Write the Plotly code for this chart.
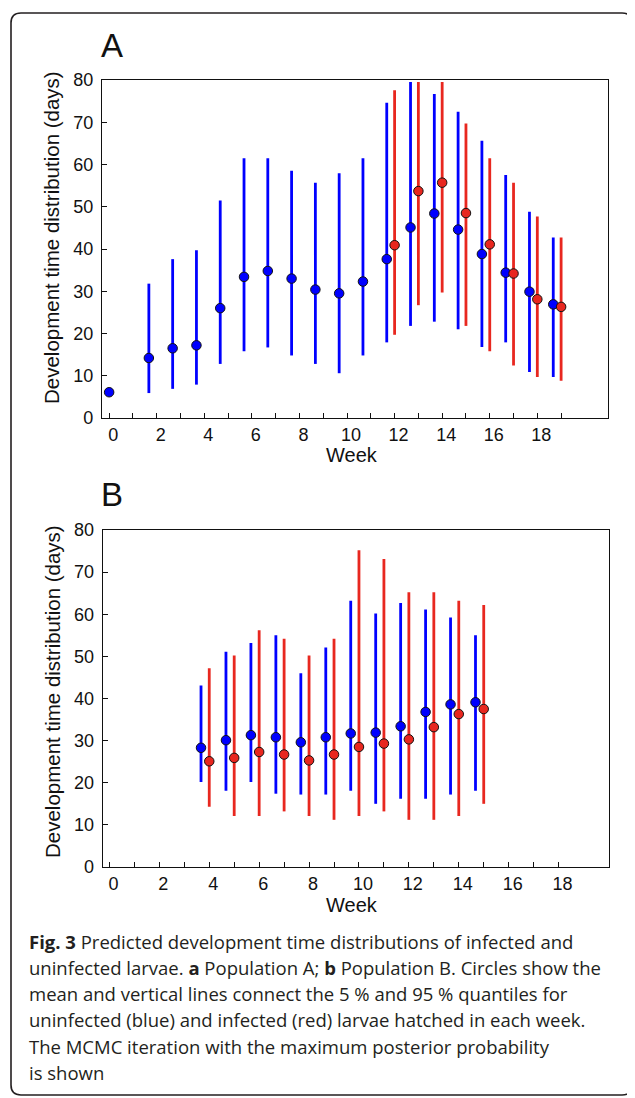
import plotly.graph_objects as go

# ---------------- data ----------------
weeks_blue_A = [0, 1.67, 2.67, 3.67, 4.67, 5.67, 6.67, 7.67, 8.67, 9.67, 10.67,
                11.67, 12.67, 13.67, 14.67, 15.67, 16.67, 17.67, 18.67]
mean_blue_A = [6.1, 14.2, 16.5, 17.2, 26.0, 33.4, 34.8, 33.0, 30.4, 29.5, 32.3,
               37.6, 45.1, 48.4, 44.6, 38.8, 34.4, 29.9, 26.9]
lo_blue_A = [5.2, 5.9, 6.9, 7.9, 12.8, 15.8, 16.7, 14.8, 12.8, 10.6, 14.8,
             17.9, 21.8, 22.8, 21.0, 16.8, 17.9, 10.9, 9.7]
hi_blue_A = [7.0, 31.8, 37.6, 39.7, 51.5, 61.5, 61.5, 58.5, 55.7, 57.9, 61.5,
             74.6, 79.5, 76.7, 72.5, 65.6, 57.5, 48.8, 42.7]

weeks_red_A = [12, 13, 14, 15, 16, 17, 18, 19]
mean_red_A = [40.9, 53.7, 55.7, 48.5, 41.1, 34.2, 28.1, 26.3]
lo_red_A = [19.7, 26.7, 29.7, 21.8, 15.8, 12.4, 9.7, 8.8]
hi_red_A = [77.6, 79.5, 79.5, 69.7, 61.5, 55.7, 47.7, 42.7]

weeks_blue_B = [3.67, 4.67, 5.67, 6.67, 7.67, 8.67, 9.67, 10.67, 11.67, 12.67, 13.67, 14.67]
mean_blue_B = [28.3, 30.1, 31.3, 30.8, 29.6, 30.8, 31.7, 31.9, 33.4, 36.8, 38.6, 39.1]
lo_blue_B = [20.2, 18.1, 20.2, 17.4, 17.2, 17.2, 18.1, 15.0, 16.2, 16.2, 17.2, 18.1]
hi_blue_B = [43.1, 51.1, 53.2, 55.0, 46.0, 52.1, 63.2, 60.2, 62.7, 61.1, 59.2, 55.0]

weeks_red_B = [4, 5, 6, 7, 8, 9, 10, 11, 12, 13, 14, 15]
mean_red_B = [25.1, 25.9, 27.3, 26.7, 25.3, 26.7, 28.5, 29.3, 30.3, 33.2, 36.3, 37.5]
lo_red_B = [14.3, 12.1, 12.1, 13.2, 12.1, 11.2, 12.1, 13.2, 11.2, 11.2, 12.1, 15.0]
hi_red_B = [47.2, 50.2, 56.2, 54.2, 50.2, 54.2, 75.2, 73.1, 65.2, 65.2, 63.2, 62.2]

x_tickvals_A = list(range(0, 20))
x_tickvals_B = list(range(0, 19))
x_ticklabels_A = [str(v) if v % 2 == 0 and v <= 18 else "" for v in x_tickvals_A]
x_ticklabels_B = [str(v) if v % 2 == 0 else "" for v in x_tickvals_B]
y_tickvals = [0, 10, 20, 30, 40, 50, 60, 70, 80]

y_title = "Development time distribution (days)"
x_title = "Week"
panel_labels = ["A", "B"]
caption_lines = [
    "<b>Fig. 3</b> Predicted development time distributions of infected and",
    "uninfected larvae. <b>a</b> Population A; <b>b</b> Population B. Circles show the",
    "mean and vertical lines connect the 5 % and 95 % quantiles for",
    "uninfected (blue) and infected (red) larvae hatched in each week.",
    "The MCMC iteration with the maximum posterior probability",
    "is shown",
]

# ---------------- styling ----------------
W, H = 635, 1098
OX, OY = 8, 8          # page body margin offset
BLUE = "#0000ff"
RED = "#e8271f"
SANS = "Liberation Sans, Arial, Helvetica, sans-serif"
TICKFONT = dict(family=SANS, size=18, color="#111")


def px_x(p):
    return (p - OX) / W


def px_y(p):
    return 1 - (p - OY) / H


fig = go.Figure()


def add_series(weeks, mean, lo, hi, color, xa, ya):
    plus = [h - m for h, m in zip(hi, mean)]
    minus = [m - l for m, l in zip(mean, lo)]
    fig.add_trace(go.Scatter(
        x=weeks, y=mean, mode="markers", xaxis=xa, yaxis=ya,
        marker=dict(size=9.5, color=color, line=dict(color="#111", width=1)),
        error_y=dict(type="data", symmetric=False, array=plus, arrayminus=minus,
                     color=color, thickness=2.8, width=0),
        showlegend=False, hoverinfo="x+y",
    ))


add_series(weeks_blue_A, mean_blue_A, lo_blue_A, hi_blue_A, BLUE, "x", "y")
add_series(weeks_red_A, mean_red_A, lo_red_A, hi_red_A, RED, "x", "y")
add_series(weeks_blue_B, mean_blue_B, lo_blue_B, hi_blue_B, BLUE, "x2", "y2")
add_series(weeks_red_B, mean_red_B, lo_red_B, hi_red_B, RED, "x2", "y2")

axis_common = dict(showline=True, linecolor="#111", linewidth=1.2, mirror=True,
                   showgrid=False, zeroline=False, ticks="inside", ticklen=5,
                   tickcolor="#111", tickwidth=1, tickfont=TICKFONT, automargin=False)

fig.update_layout(
    width=W, height=H, margin=dict(l=0, r=0, t=0, b=0, autoexpand=False),
    paper_bgcolor="white", plot_bgcolor="white",
    xaxis=dict(domain=[px_x(102), px_x(607.5)], range=[-0.3, 20.95], anchor="y",
               tickmode="array", tickvals=x_tickvals_A, ticktext=x_ticklabels_A,
               ticklabelshift=4, ticklabelstandoff=0, **axis_common),
    yaxis=dict(domain=[px_y(418), px_y(80)], range=[0, 80], anchor="x",
               tickmode="array", tickvals=y_tickvals, ticklabelstandoff=4, **axis_common),
    xaxis2=dict(domain=[px_x(102.7), px_x(608.5)], range=[-0.27, 20.0], anchor="y2",
                tickmode="array", tickvals=x_tickvals_B, ticktext=x_ticklabels_B,
                ticklabelshift=4, ticklabelstandoff=0, **axis_common),
    yaxis2=dict(domain=[px_y(867), px_y(530)], range=[0, 80], anchor="x2",
                tickmode="array", tickvals=y_tickvals, ticklabelstandoff=4, **axis_common),
)

ann = []
for lab, (cx, cy) in zip(panel_labels, [(112, 45), (112, 494)]):
    ann.append(dict(text=lab, x=px_x(cx), y=px_y(cy), xref="paper", yref="paper",
                    xanchor="center", yanchor="middle", showarrow=False,
                    font=dict(family=SANS, size=33, color="#111")))
for cy in (238, 692):
    ann.append(dict(text=y_title, x=px_x(52), y=px_y(cy), xref="paper", yref="paper",
                    xanchor="center", yanchor="middle", showarrow=False, textangle=-90,
                    font=dict(family=SANS, size=20.5, color="#111")))
for cy in (455, 905):
    ann.append(dict(text=x_title, x=px_x(352), y=px_y(cy), xref="paper", yref="paper",
                    xanchor="center", yanchor="middle", showarrow=False, borderpad=0,
                    font=dict(family=SANS, size=20, color="#111")))
for i, line in enumerate(caption_lines):
    ann.append(dict(text=line, x=px_x(27), y=px_y(941 + 26.3 * i), xref="paper", yref="paper",
                    xanchor="left", yanchor="middle", showarrow=False,
                    font=dict(family="Open Sans, sans-serif", size=18.5, color="#231f20")))
fig.update_layout(annotations=ann)

# rounded border
x0, y0, x1, y1, r = 11, 13, 632, 1095, 10
path = (f"M {px_x(x0 + r)},{px_y(y0)} L {px_x(x1 - r)},{px_y(y0)} "
        f"Q {px_x(x1)},{px_y(y0)} {px_x(x1)},{px_y(y0 + r)} "
        f"L {px_x(x1)},{px_y(y1 - r)} Q {px_x(x1)},{px_y(y1)} {px_x(x1 - r)},{px_y(y1)} "
        f"L {px_x(x0 + r)},{px_y(y1)} Q {px_x(x0)},{px_y(y1)} {px_x(x0)},{px_y(y1 - r)} "
        f"L {px_x(x0)},{px_y(y0 + r)} Q {px_x(x0)},{px_y(y0)} {px_x(x0 + r)},{px_y(y0)} Z")
fig.add_shape(type="path", path=path, xref="paper", yref="paper",
              line=dict(color="#231f20", width=1.6), fillcolor="rgba(0,0,0,0)")

fig.write_html("out.html")
